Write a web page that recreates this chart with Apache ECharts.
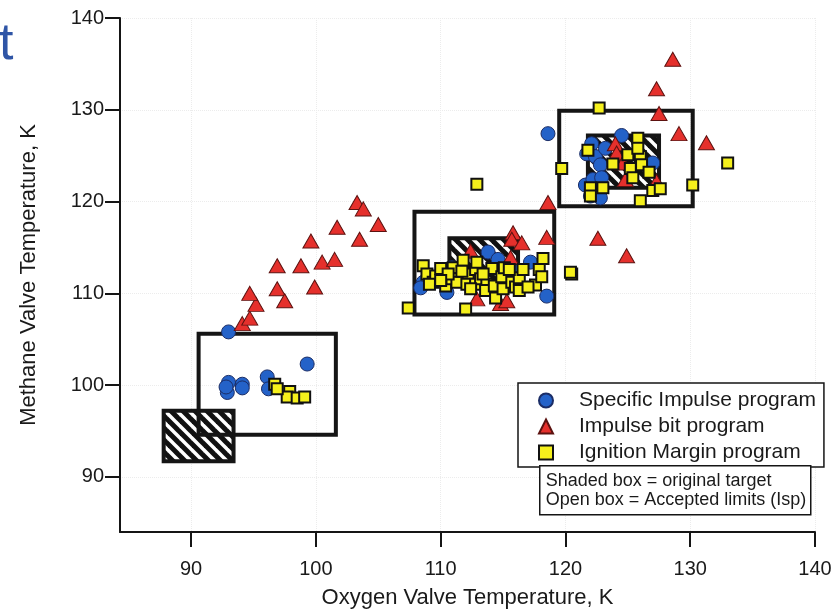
<!DOCTYPE html>
<html>
<head>
<meta charset="utf-8">
<script src="https://cdn.jsdelivr.net/npm/echarts@6/dist/echarts.min.js"></script>
<style>
  html, body { margin: 0; padding: 0; background: #fff; }
  #chart { width: 837px; height: 614px; }
</style>
</head>
<body>
<div id="chart"></div>
<script>
// tick values
const xTicks = [90, 100, 110, 120, 130, 140];
const yTicks = [90, 100, 110, 120, 130, 140];

// [oxygen K, methane K]
const specificImpulse = [
  [93.0, 105.8], [99.3, 102.3], [93.0, 100.3], [94.1, 100.1], [92.9, 99.2], [94.1, 99.7],
  [92.8, 99.8], [96.1, 100.9], [96.2, 99.6],
  [108.6, 111.2], [108.4, 110.6], [110.5, 110.1], [110.9, 112.8], [113.8, 114.5], [114.6, 113.7],
  [117.2, 113.4], [118.5, 109.7], [116.2, 112.4],
  [118.6, 127.4], [124.5, 127.2], [122.1, 126.3], [121.7, 125.2], [122.4, 124.9], [122.8, 124.0],
  [121.6, 121.8], [122.2, 122.4], [122.9, 122.6], [122.0, 120.6], [122.8, 120.4], [127.0, 124.2],
  [123.2, 125.8]
];
const impulseBit = [
  [94.1, 106.7], [94.7, 107.3], [95.2, 108.8], [94.7, 110.0], [96.9, 110.5], [97.5, 109.2],
  [96.9, 113.0], [98.8, 113.0], [99.9, 110.7], [99.6, 115.7], [100.5, 113.4], [101.5, 113.7],
  [101.7, 117.2], [103.5, 115.9], [103.3, 119.9], [103.8, 119.2], [105.0, 117.5],
  [112.4, 114.6], [115.8, 116.6], [115.7, 115.9], [116.5, 115.5], [115.6, 113.9], [118.5, 116.1],
  [112.9, 109.4], [114.8, 108.9], [115.3, 109.2], [118.6, 119.9],
  [122.6, 116.0], [124.9, 114.1],
  [128.6, 135.5], [127.3, 132.3], [127.5, 129.6], [129.1, 127.4], [131.3, 126.4], [124.0, 126.3],
  [124.1, 125.3], [124.8, 122.4], [124.6, 124.2], [127.3, 122.2]
];
const ignitionMargin = [
  [96.7, 100.1], [97.9, 99.3], [97.7, 98.7], [98.5, 98.6], [99.1, 98.7], [96.9, 99.6],
  [108.6, 113.0], [108.9, 112.1], [109.4, 111.2], [109.6, 111.9], [110.0, 112.7], [110.4, 110.8],
  [111.0, 112.8], [110.9, 111.6], [111.3, 111.2], [111.8, 113.6], [112.2, 112.1], [112.1, 111.0],
  [112.8, 112.6], [112.9, 113.4], [112.8, 111.0], [113.2, 111.6], [113.7, 111.0], [113.6, 110.3],
  [114.1, 112.7], [114.3, 110.8], [114.4, 109.5], [114.9, 111.8], [115.1, 112.8], [115.0, 110.5],
  [115.7, 111.2], [116.0, 110.7], [116.3, 110.3], [116.3, 111.7], [116.6, 112.6], [117.6, 110.9],
  [117.9, 112.6], [118.2, 113.8], [118.1, 111.8], [107.4, 108.4], [112.0, 108.3], [120.5, 112.1],
  [120.4, 112.3], [109.1, 111.0], [110.6, 112.1], [111.7, 112.4], [113.4, 112.1], [115.5, 112.6],
  [117.0, 110.7], [110.0, 111.4], [112.4, 110.5],
  [122.7, 130.2], [119.7, 123.6], [121.8, 125.6], [125.8, 126.9], [125.0, 125.1], [126.0, 124.9],
  [123.8, 124.1], [125.2, 123.6], [126.1, 124.0], [126.7, 123.2], [122.0, 121.5], [123.0, 121.5],
  [122.0, 120.6], [127.0, 121.2], [127.6, 121.4], [130.2, 121.8], [126.0, 120.1], [133.0, 124.2],
  [112.9, 121.9], [125.8, 125.8], [125.4, 122.6]
];

// [xMin, yMin, xMax, yMax]
const shadedBoxes = [
  [87.8, 91.7, 93.4, 97.2],
  [110.7, 110.8, 116.2, 116.0],
  [121.8, 121.5, 127.5, 127.2]
];
const openBoxes = [
  [90.6, 94.6, 101.6, 105.6],
  [107.9, 107.7, 119.1, 118.9],
  [119.5, 119.5, 130.2, 129.9]
];

// diagonal hatch
function makeHatch() {
  const p = 12;
  const c = document.createElement('canvas');
  c.width = p; c.height = p;
  const ctx = c.getContext('2d');
  ctx.fillStyle = '#fff';
  ctx.fillRect(0, 0, p, p);
  ctx.strokeStyle = '#111';
  ctx.lineWidth = 5;
  [[0, -p, 2 * p, p], [-p, -p, p, p], [-p, 0, p, 2 * p]].forEach(s => {
    ctx.beginPath();
    ctx.moveTo(s[0], s[1]);
    ctx.lineTo(s[2], s[3]);
    ctx.stroke();
  });
  return c;
}
const hatch = { image: makeHatch(), repeat: 'repeat' };

function boxRenderer(fill) {
  return function (params, api) {
    const p0 = api.coord([api.value(0), api.value(3)]);
    const p1 = api.coord([api.value(2), api.value(1)]);
    return {
      type: 'rect',
      shape: { x: p0[0], y: p0[1], width: p1[0] - p0[0], height: p1[1] - p0[1] },
      style: { fill: fill, stroke: '#151515', lineWidth: 4 }
    };
  };
}

const font = '"Liberation Sans", Arial, sans-serif';
const chart = echarts.init(document.getElementById('chart'));

const axisCommon = {
  type: 'value',
  max: 140,
  nameLocation: 'middle',
  nameTextStyle: { fontFamily: font, fontSize: 22, color: '#1a1a1a' },
  axisLine: { show: true, onZero: false, lineStyle: { color: '#151515', width: 2 } },
  axisTick: { show: true, inside: false, length: 15, lineStyle: { color: '#151515', width: 2 } },
  splitLine: { show: true, lineStyle: { color: '#ececec', type: 'dotted', width: 1 } }
};

chart.setOption({
  animation: false,
  backgroundColor: '#fff',
  grid: { left: 120, right: 22, top: 18, bottom: 77, containLabel: false },
  xAxis: {
    ...axisCommon,
    min: 84.3,
    name: 'Oxygen Valve Temperature, K',
    nameGap: 55,
    axisTick: { ...axisCommon.axisTick, customValues: xTicks },
    axisLabel: { customValues: xTicks, margin: 27, fontFamily: font, fontSize: 20, color: '#1a1a1a' }
  },
  yAxis: {
    ...axisCommon,
    min: 84,
    name: 'Methane Valve Temperature, K',
    nameGap: 80,
    axisTick: { ...axisCommon.axisTick, customValues: yTicks },
    axisLabel: { customValues: yTicks, margin: 16, fontFamily: font, fontSize: 20, color: '#1a1a1a' }
  },
  legend: {
    orient: 'vertical',
    left: 518,
    top: 383,
    padding: [7, 8, 4, 20],
    borderColor: '#151515',
    borderWidth: 1.5,
    backgroundColor: '#fff',
    itemWidth: 14,
    itemHeight: 14,
    itemGap: 5,
    textStyle: { fontFamily: font, fontSize: 21, lineHeight: 20, color: '#1a1a1a', padding: [0, 0, 0, 21] },
    data: ['Specific Impulse program', 'Impulse bit program', 'Ignition Margin program']
  },
  graphic: [
    {
      type: 'text', left: -1, top: 19,
      style: { text: 't', font: '52px ' + font, fill: '#2f55a6' }
    },
    {
      type: 'group', left: 539, top: 465, z: 100,
      children: [
        { type: 'rect', z: 100, shape: { x: 0, y: 0, width: 271, height: 49 },
          style: { fill: '#fff', stroke: '#151515', lineWidth: 1.5 } },
        { type: 'text', z: 101, x: 6, y: 15,
          style: { text: 'Shaded box = original target', font: '18px ' + font, fill: '#1a1a1a', verticalAlign: 'middle' } },
        { type: 'text', z: 101, x: 6, y: 34,
          style: { text: 'Open box = Accepted limits (Isp)', font: '18px ' + font, fill: '#1a1a1a', verticalAlign: 'middle' } }
      ]
    }
  ],
  series: [
    {
      type: 'custom', name: 'shaded', silent: true, z: 1,
      renderItem: boxRenderer(hatch),
      encode: { x: [0, 2], y: [1, 3] },
      data: shadedBoxes
    },
    {
      type: 'custom', name: 'open', silent: true, z: 1,
      renderItem: boxRenderer('transparent'),
      encode: { x: [0, 2], y: [1, 3] },
      data: openBoxes
    },
    {
      type: 'scatter', name: 'Specific Impulse program', z: 3,
      symbol: 'circle', symbolSize: 14,
      itemStyle: { color: '#2462c8', borderColor: '#1b2d66', borderWidth: 1, opacity: 1 },
      data: specificImpulse
    },
    {
      type: 'scatter', name: 'Impulse bit program', z: 4,
      symbol: 'triangle', symbolSize: [16, 14],
      itemStyle: { color: '#e5302c', borderColor: '#5c1210', borderWidth: 1, opacity: 1 },
      data: impulseBit
    },
    {
      type: 'scatter', name: 'Ignition Margin program', z: 5,
      symbol: 'rect', symbolSize: 11,
      itemStyle: { color: '#f5f01c', borderColor: '#111', borderWidth: 2, opacity: 1 },
      data: ignitionMargin
    }
  ]
});
</script>
</body>
</html>
